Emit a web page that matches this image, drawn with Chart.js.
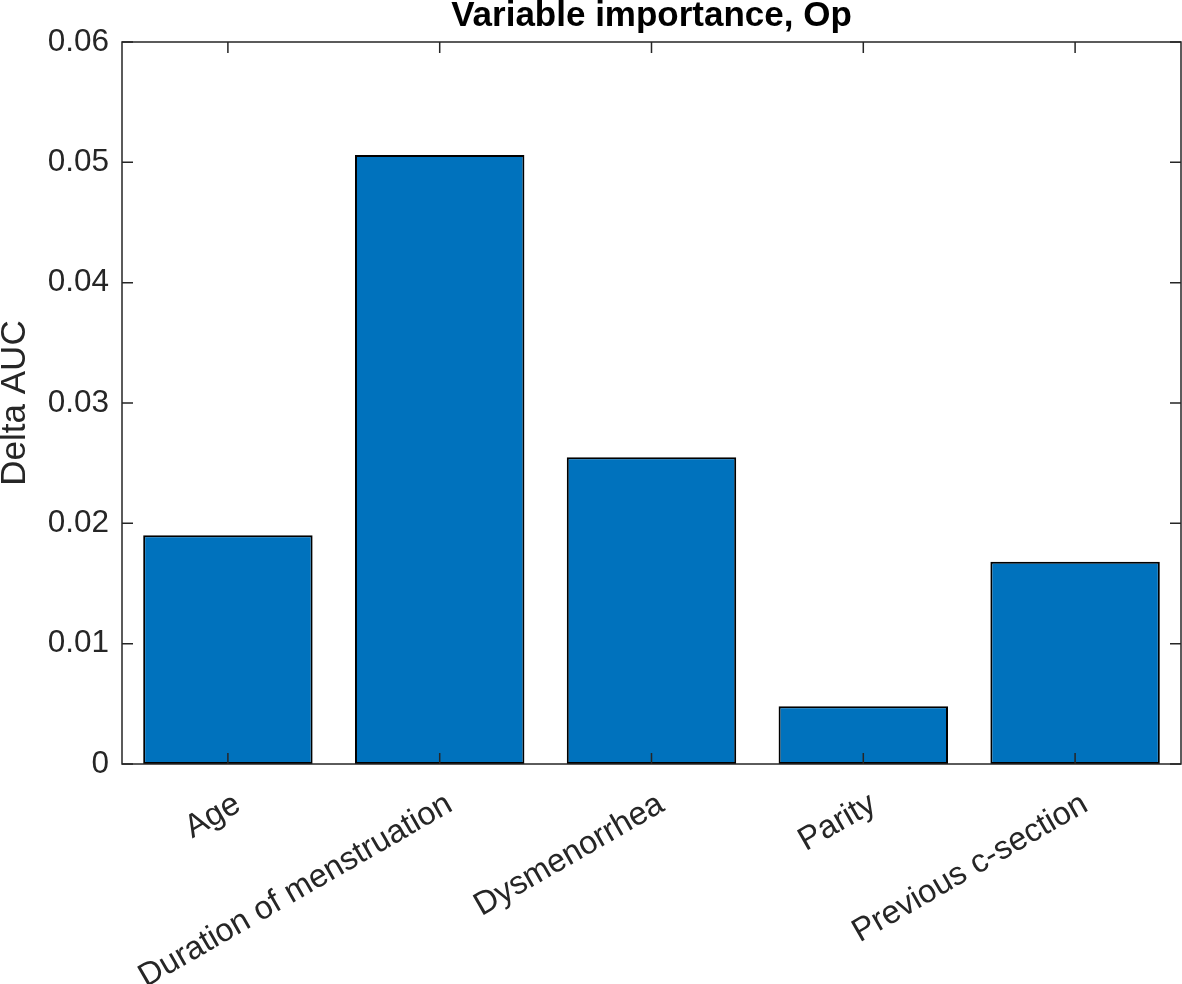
<!DOCTYPE html>
<html>
<head>
<meta charset="utf-8">
<script src="https://cdn.jsdelivr.net/npm/chart.js@4"></script>
<style>
  html, body { margin: 0; padding: 0; background: #fff; }
  #wrap { width: 1182px; height: 984px; }
</style>
</head>
<body>
<div id="wrap"><canvas id="chart" width="1182" height="984"></canvas></div>
<script>
const categories = ['Age', 'Duration of menstruation', 'Dysmenorrhea', 'Parity', 'Previous c-section'];
const deltaAUC = [0.0190, 0.0506, 0.0255, 0.0048, 0.0168];
const yTicks = [0, 0.01, 0.02, 0.03, 0.04, 0.05, 0.06];

const axisColor = '#262626';
const fontFamily = '"Liberation Sans", Arial, Helvetica, sans-serif';

// MATLAB-style box with inward tick marks, plus a title centred over the axes
const matlabBox = {
  id: 'matlabBox',
  afterDraw(chart) {
    const ctx = chart.ctx;
    const a = chart.chartArea;
    const x = chart.scales.x;
    const y = chart.scales.y;
    const len = 11;
    ctx.save();
    ctx.strokeStyle = axisColor;
    ctx.lineWidth = 1.5;
    ctx.strokeRect(a.left, a.top, a.right - a.left, a.bottom - a.top);
    ctx.beginPath();
    x.ticks.forEach((t, i) => {
      const px = x.getPixelForTick(i);
      ctx.moveTo(px, a.bottom); ctx.lineTo(px, a.bottom - len);
      ctx.moveTo(px, a.top); ctx.lineTo(px, a.top + len);
    });
    y.ticks.forEach((t, i) => {
      const py = y.getPixelForTick(i);
      ctx.moveTo(a.left, py); ctx.lineTo(a.left + len, py);
      ctx.moveTo(a.right, py); ctx.lineTo(a.right - len, py);
    });
    ctx.stroke();

    ctx.fillStyle = '#000';
    ctx.font = 'bold 35px ' + fontFamily;
    ctx.textAlign = 'center';
    ctx.textBaseline = 'middle';
    ctx.fillText('Variable importance, Op', (a.left + a.right) / 2, 16);
    ctx.restore();
  }
};

new Chart(document.getElementById('chart'), {
  type: 'bar',
  data: {
    labels: categories,
    datasets: [{
      label: 'Delta AUC',
      data: deltaAUC,
      backgroundColor: '#0072BD',
      borderColor: '#000000',
      borderWidth: 2,
      borderSkipped: false,
      barPercentage: 0.8,
      categoryPercentage: 1
    }]
  },
  options: {
    responsive: false,
    animation: false,
    layout: { padding: { top: 42, right: 1, left: 0, bottom: 0 } },
    plugins: {
      legend: { display: false },
      title: { display: false },
      tooltip: { enabled: false }
    },
    scales: {
      x: {
        grid: { display: false, drawTicks: false },
        border: { display: false },
        afterFit(scale) { scale.height = 220; },
        ticks: {
          color: axisColor,
          font: { family: fontFamily, size: 32.5 },
          minRotation: 30,
          maxRotation: 30,
          padding: 21,
          labelOffset: 10,
          autoSkip: false
        }
      },
      y: {
        min: 0,
        max: 0.06,
        grid: { display: false, drawTicks: false },
        border: { display: false },
        afterFit(scale) { scale.width = 122; },
        afterBuildTicks(scale) { scale.ticks = yTicks.map(v => ({ value: v })); },
        ticks: {
          color: axisColor,
          font: { family: fontFamily, size: 31.5 },
          padding: 13,
          callback: v => String(v)
        },
        title: {
          display: true,
          text: 'Delta AUC',
          color: axisColor,
          font: { family: fontFamily, size: 35, lineHeight: 0.9 },
          padding: 0
        }
      }
    }
  },
  plugins: [matlabBox]
});
</script>
</body>
</html>
